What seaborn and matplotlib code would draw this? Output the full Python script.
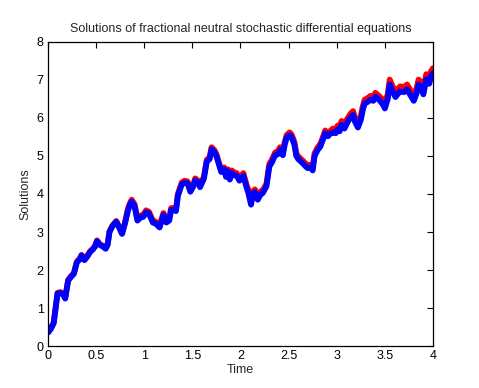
import numpy as np
import pandas as pd
import matplotlib
matplotlib.use("Agg")
import matplotlib.pyplot as plt
import seaborn as sns
from matplotlib.ticker import FormatStrFormatter, MultipleLocator

# values
time = [0.00, 0.03, 0.06, 0.08, 0.10, 0.13, 0.16, 0.18, 0.21, 0.24,
        0.27, 0.30, 0.33, 0.35, 0.38, 0.41, 0.44, 0.47, 0.49, 0.51,
        0.54, 0.57, 0.60, 0.62, 0.64, 0.67, 0.71, 0.74, 0.77, 0.80,
        0.83, 0.85, 0.87, 0.90, 0.93, 0.96, 0.99, 1.02, 1.05, 1.09,
        1.12, 1.16, 1.18, 1.20, 1.23, 1.26, 1.28, 1.31, 1.33, 1.35,
        1.39, 1.42, 1.45, 1.48, 1.51, 1.53, 1.56, 1.58, 1.62, 1.65,
        1.68, 1.70, 1.73, 1.75, 1.78, 1.80, 1.83, 1.85, 1.87, 1.89,
        1.91, 1.93, 1.96, 1.99, 2.03, 2.06, 2.08, 2.11, 2.13, 2.15,
        2.18, 2.21, 2.23, 2.27, 2.30, 2.33, 2.36, 2.39, 2.41, 2.44,
        2.46, 2.48, 2.51, 2.53, 2.56, 2.58, 2.60, 2.63, 2.65, 2.68,
        2.70, 2.73, 2.75, 2.77, 2.80, 2.83, 2.86, 2.88, 2.91, 2.93,
        2.96, 2.99, 3.01, 3.03, 3.05, 3.08, 3.11, 3.14, 3.17, 3.19,
        3.22, 3.25, 3.27, 3.29, 3.32, 3.35, 3.38, 3.40, 3.43, 3.45,
        3.48, 3.50, 3.53, 3.55, 3.58, 3.61, 3.64, 3.66, 3.70, 3.73,
        3.76, 3.80, 3.83, 3.85, 3.88, 3.90, 3.93, 3.96, 3.98, 4.00]

# blue solution
sol_blue = [0.35, 0.45, 0.60, 1.00, 1.38, 1.40, 1.35, 1.25, 1.72, 1.82,
            1.90, 2.20, 2.28, 2.38, 2.26, 2.36, 2.48, 2.55, 2.62, 2.76,
            2.66, 2.62, 2.56, 2.66, 3.00, 3.15, 3.27, 3.12, 2.95, 3.22,
            3.55, 3.70, 3.80, 3.68, 3.30, 3.38, 3.40, 3.52, 3.48, 3.25,
            3.22, 3.12, 3.28, 3.45, 3.25, 3.30, 3.58, 3.58, 3.55, 3.95,
            4.25, 4.30, 4.28, 4.06, 4.20, 4.36, 4.30, 4.18, 4.40, 4.85,
            4.92, 5.18, 5.10, 5.00, 4.75, 4.58, 4.65, 4.45, 4.60, 4.38,
            4.55, 4.50, 4.48, 4.35, 4.48, 4.20, 4.05, 3.72, 4.00, 4.05,
            3.85, 4.00, 4.02, 4.20, 4.72, 4.85, 5.02, 5.05, 5.16, 5.02,
            5.30, 5.48, 5.55, 5.50, 5.30, 5.00, 4.92, 4.85, 4.80, 4.72,
            4.68, 4.70, 4.62, 5.00, 5.15, 5.25, 5.45, 5.60, 5.52, 5.58,
            5.62, 5.60, 5.70, 5.65, 5.82, 5.72, 5.88, 6.00, 6.08, 5.90,
            5.75, 5.95, 6.20, 6.38, 6.42, 6.48, 6.45, 6.56, 6.50, 6.45,
            6.35, 6.25, 6.50, 6.88, 6.70, 6.55, 6.65, 6.70, 6.68, 6.75,
            6.62, 6.45, 6.65, 6.88, 6.80, 6.62, 7.02, 6.90, 7.10, 7.18]

# red solution (slightly above blue)
sol_red = [0.37, 0.47, 0.62, 1.02, 1.40, 1.42, 1.37, 1.27, 1.74, 1.84,
           1.92, 2.22, 2.30, 2.40, 2.28, 2.38, 2.50, 2.57, 2.64, 2.78,
           2.68, 2.64, 2.58, 2.68, 3.02, 3.17, 3.29, 3.14, 2.97, 3.24,
           3.60, 3.75, 3.85, 3.73, 3.35, 3.43, 3.45, 3.57, 3.53, 3.30,
           3.27, 3.17, 3.33, 3.50, 3.30, 3.35, 3.63, 3.63, 3.60, 4.00,
           4.30, 4.35, 4.33, 4.11, 4.25, 4.41, 4.35, 4.23, 4.45, 4.90,
           4.97, 5.23, 5.15, 5.05, 4.80, 4.63, 4.70, 4.50, 4.65, 4.43,
           4.62, 4.57, 4.55, 4.42, 4.55, 4.27, 4.12, 3.79, 4.07, 4.12,
           3.92, 4.07, 4.09, 4.27, 4.79, 4.92, 5.09, 5.12, 5.23, 5.09,
           5.37, 5.55, 5.62, 5.57, 5.37, 5.07, 4.99, 4.92, 4.87, 4.79,
           4.75, 4.77, 4.69, 5.07, 5.22, 5.32, 5.52, 5.67, 5.59, 5.65,
           5.72, 5.70, 5.80, 5.75, 5.92, 5.82, 5.98, 6.10, 6.18, 6.00,
           5.85, 6.05, 6.30, 6.48, 6.52, 6.58, 6.55, 6.66, 6.60, 6.55,
           6.48, 6.38, 6.63, 7.01, 6.83, 6.68, 6.78, 6.83, 6.81, 6.88,
           6.75, 6.58, 6.78, 7.01, 6.93, 6.75, 7.15, 7.03, 7.23, 7.31]

df = pd.DataFrame({"Time": time, "blue": sol_blue, "red": sol_red})

sns.set_style("white")
plt.rcParams['font.family'] = ['Liberation Sans', 'DejaVu Sans']

fig = plt.figure(figsize=(4.79, 3.88), dpi=100)
ax = fig.add_axes([0.100, 0.108, 0.804, 0.784])

sns.lineplot(data=df, x="Time", y="red", color="#ff0000", lw=4.2,
             estimator=None, sort=False, ax=ax)
sns.lineplot(data=df, x="Time", y="blue", color="#0000ff", lw=4.2,
             estimator=None, sort=False, ax=ax)

ax.set_xlim(0, 4)
ax.set_ylim(0, 8)
ax.xaxis.set_major_locator(MultipleLocator(0.5))
ax.yaxis.set_major_locator(MultipleLocator(1))
ax.xaxis.set_major_formatter(FormatStrFormatter('%g'))
ax.yaxis.set_major_formatter(FormatStrFormatter('%g'))
ax.tick_params(direction='in', length=4, width=0.8, top=True, right=True,
               labelsize=9, pad=3, colors='black')
for s in ax.spines.values():
    s.set_visible(True)
    s.set_color('black')
    s.set_linewidth(0.9)

ax.set_title("Solutions of fractional neutral stochastic differential equations",
             fontsize=9, pad=7)
ax.set_xlabel("Time", fontsize=9, labelpad=1)
ax.set_ylabel("Solutions", fontsize=9, labelpad=4)

fig.savefig("out.png", dpi=100, facecolor='white')
